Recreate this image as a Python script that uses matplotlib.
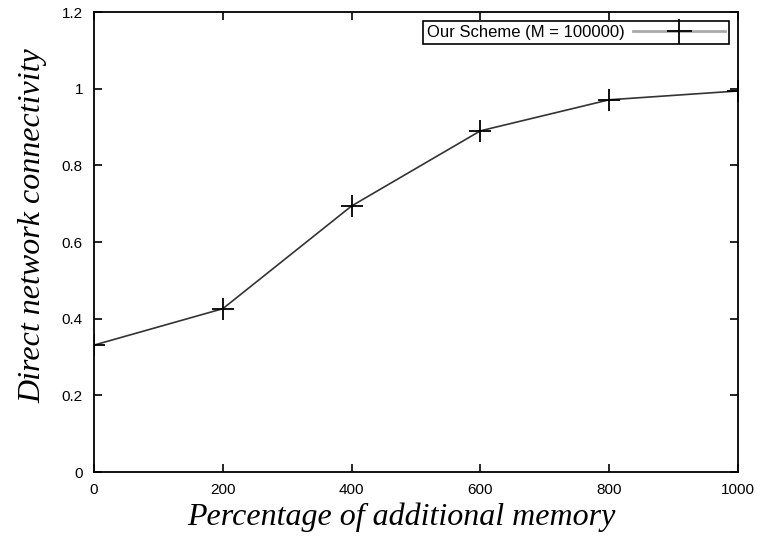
import matplotlib
matplotlib.use("Agg")
import matplotlib.pyplot as plt
from matplotlib.lines import Line2D

x_vals = [0, 200, 400, 600, 800, 1000]
connectivity = [0.331, 0.426, 0.694, 0.890, 0.971, 0.994]
series_label = "Our Scheme (M = 100000)"
x_ticks = [0, 200, 400, 600, 800, 1000]
y_ticks = [0, 0.2, 0.4, 0.6, 0.8, 1.0, 1.2]
y_tick_labels = ["0", "0.2", "0.4", "0.6", "0.8", "1", "1.2"]

fig = plt.figure(figsize=(7.61, 5.38), dpi=100)
ax = fig.add_axes([94/761, 66/538, 644/761, 460/538])

ax.plot(x_vals, connectivity, color="#333333", lw=1.2, marker="+",
        markersize=16, markeredgewidth=1.3, markeredgecolor="black",
        label=series_label)

ax.set_xlim(0, 1000)
ax.set_ylim(0, 1.2)
ax.set_xticks(x_ticks)
ax.set_yticks(y_ticks)
ax.set_yticklabels(y_tick_labels)
ax.tick_params(direction="in", length=6, width=1.2, top=True, right=True,
               labelsize=11, pad=8)
for lbl in ax.get_xticklabels() + ax.get_yticklabels():
    lbl.set_family("Liberation Sans")
for s in ax.spines.values():
    s.set_linewidth(1.3)

ax.set_xlabel("Percentage of additional memory", family="Liberation Serif",
              style="italic", fontsize=23)
ax.set_ylabel("Direct network connectivity", family="Liberation Serif",
              style="italic", fontsize=23)
ax.xaxis.set_label_coords(0.477, -0.066, transform=ax.transAxes)
ax.yaxis.set_label_coords(-0.073, 0.535, transform=ax.transAxes)
ax.xaxis.label.set_va("top")

handle = Line2D([], [], color="#aaaaaa", lw=2, marker="+", markersize=18,
                markeredgewidth=1.3, markeredgecolor="black")
leg = ax.legend([handle], [series_label], loc="upper right",
                bbox_to_anchor=(0.986, 0.981), borderaxespad=0,
                fancybox=False,
                edgecolor="black", framealpha=1, handlelength=5.5,
                handletextpad=0.5,
                prop={"family": "Liberation Sans", "size": 12},
                markerfirst=False, borderpad=0.25)
leg.get_frame().set_linewidth(1.2)

fig.savefig("out.png", dpi=100)
